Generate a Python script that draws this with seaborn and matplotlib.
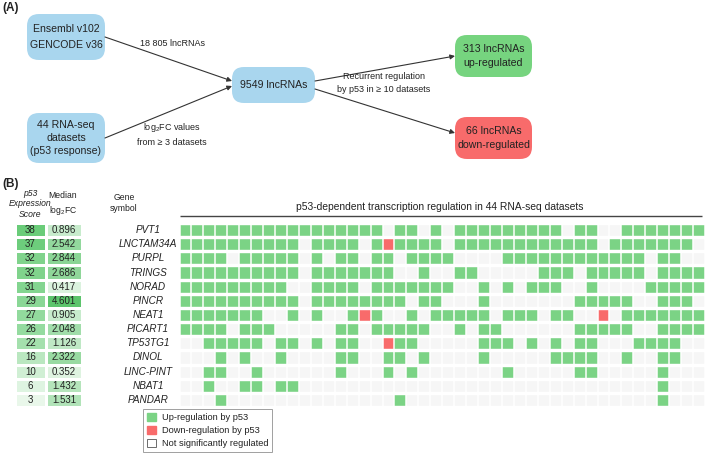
import numpy as np
import pandas as pd
import matplotlib
matplotlib.use("Agg")
import matplotlib.pyplot as plt
import seaborn as sns
from matplotlib.colors import ListedColormap, LinearSegmentedColormap, PowerNorm
from matplotlib.patches import FancyBboxPatch, Patch

# ---------------- data ----------------
genes = ["PVT1", "LNCTAM34A", "PURPL", "TRINGS", "NORAD", "PINCR", "NEAT1",
         "PICART1", "TP53TG1", "DINOL", "LINC-PINT", "NBAT1", "PANDAR"]
scores = [38, 37, 32, 32, 31, 29, 27, 26, 22, 16, 10, 6, 3]
medians = [0.896, 2.542, 2.844, 2.686, 0.417, 4.601, 0.905, 2.048, 1.126,
           2.322, 0.352, 1.432, 1.531]
# u = up-regulation by p53, d = down-regulation, . = not significant (44 datasets)
status_rows = [
    "uuuuuuuuuuuuuuuuu.uu.u.uuuuuuuuu.uu..uuuuuuu",
    "uuuuuuuuuu.uuuu.uduuuu.uuuuuuuuuuuu.uuuuuuu.",
    "uuuu.uuuuu.u.uu.uu.uuuu....uuuuuuuuuuuu.uu..",
    "uuuuuuuuuu.uuuuuuu..u..uu.....uuu.uuuuu.uuuu",
    "uuuuuuuuu..uuuu.uuuuuuu..u.u.uuu..u....uuuuu",
    "uuuuuuuuuu.uuuuuuuu.uu...u.......uuuuu..uuu.",
    "uuuuuuu..u.u..udu..u.uuuuu.uuu.uu..d.uuuuuuu",
    "uuuu.uuu.....uu.uuuuu..u.uu......uuuuu..uuuu",
    "..uuuuu.uu.u.uu..duu.....uuu.u.u.uu...uuuu..",
    "...u.u..u....uu..uu.u....u.....uuuu..u..uu..",
    "..uu..u......u...u.u.......u.....uu.....u...",
    "..u..uu.uu..............................u...",
    "...u..............u.....................u...",
]
for r in status_rows:
    assert len(r) == 44, (r, len(r))

flow_boxes = ["Ensembl v102\nGENCODE v36", "44 RNA-seq\ndatasets\n(p53 response)",
              "9549 lncRNAs", "313 lncRNAs\nup-regulated", "66 lncRNAs\ndown-regulated"]
flow_labels = ["18 805 lncRNAs", "log$_2$FC values\nfrom ≥ 3 datasets",
               "Recurrent regulation\nby p53 in ≥ 10 datasets"]

# ---------------- style ----------------
sns.set_theme(style="white")
plt.rcParams['font.family'] = ['Liberation Sans', 'DejaVu Sans']
plt.rcParams['mathtext.fontset'] = 'custom'
plt.rcParams['mathtext.rm'] = 'Liberation Sans'
plt.rcParams['mathtext.it'] = 'Liberation Sans:italic'

W, H = 709, 454
fig = plt.figure(figsize=(W / 100, H / 100), dpi=100)
TXT = "#222222"

def px_axes(x0, y0, x1, y1, **kw):
    return fig.add_axes([x0 / W, 1 - y1 / H, (x1 - x0) / W, (y1 - y0) / H], **kw)

ov = px_axes(0, 0, W, H)
ov.set_xlim(0, W)
ov.set_ylim(H, 0)
ov.axis('off')

# ---------------- panel A ----------------
BLUE, GREEN, RED = "#a9d6ee", "#76d47f", "#f86b6b"
GRID_GREEN = "#7bd385"
box_geo = [(27, 14, 105, 60, BLUE, 1.65), (27, 113, 105, 163, BLUE, 1.35),
           (232, 67, 315, 103, BLUE, 1.2), (455, 35, 532, 77, GREEN, 1.55),
           (455, 117, 532, 159, RED, 1.5)]
for (x0, y0, x1, y1, c, ls), t in zip(box_geo, flow_boxes):
    ov.add_patch(FancyBboxPatch((x0, y0), x1 - x0, y1 - y0,
                                boxstyle="round,pad=0,rounding_size=12",
                                fc=c, ec="none"))
    ov.text((x0 + x1) / 2, (y0 + y1) / 2, t, ha='center', va='center',
            fontsize=7.6, color=TXT, linespacing=ls)

arrows = [((105, 37), (232, 81)), ((105, 138), (232, 86)),
          ((315, 81), (455, 56)), ((315, 89), (455, 133))]
for s, e in arrows:
    ov.annotate("", xy=e, xytext=s,
                arrowprops=dict(arrowstyle="-|>", color="#333333", lw=0.8,
                                mutation_scale=7, shrinkA=0, shrinkB=0))
ov.text(172, 43, flow_labels[0], ha='center', va='center', fontsize=6.5, color=TXT)
ov.text(172, 134, flow_labels[1], ha='center', va='center', fontsize=6.5,
        color=TXT, linespacing=1.45)
ov.text(384, 83, flow_labels[2], ha='center', va='center', fontsize=6.5,
        color=TXT, linespacing=1.7)
ov.text(2, 8, "(A)", ha='left', va='center', fontsize=8.5, fontweight='bold', color=TXT)
ov.text(2, 184, "(B)", ha='left', va='center', fontsize=8.5, fontweight='bold', color=TXT)

# ---------------- panel B ----------------
Y0, Y1 = 223, 407
n = len(genes)
pitch = (Y1 - Y0) / n

# headers
ov.text(30, 204, "p53\nExpression\nScore", ha='center', va='center',
        fontsize=6.2, style='italic', color=TXT, linespacing=1.15)
ov.text(63, 204, "Median\nlog$_2$FC", ha='center', va='center',
        fontsize=6.2, color=TXT, linespacing=1.35)
ov.text(124, 203, "Gene\nsymbol", ha='center', va='center',
        fontsize=6.2, color=TXT, linespacing=1.35)
ov.text(440, 207, "p53-dependent transcription regulation in 44 RNA-seq datasets",
        ha='center', va='center', fontsize=7.4, color=TXT)
ov.plot([180, 702], [216, 216], color="#444444", lw=1.0, solid_capstyle='butt')

# gene symbols
for i, g in enumerate(genes):
    ov.text(148, Y0 + (i + 0.5) * pitch, g, ha='center', va='center',
            fontsize=7.2, style='italic', color=TXT)

# score & median columns
gcmap = LinearSegmentedColormap.from_list("lg", ["#f4fbf4", "#6acc79"])
ax_s = px_axes(15, Y0, 46, Y1)
sns.heatmap(pd.DataFrame({"s": scores}, index=genes), ax=ax_s, cmap=gcmap,
            vmin=0, vmax=38, annot=True, fmt="d", cbar=False,
            linewidths=0.8, linecolor='white', xticklabels=False,
            yticklabels=False, annot_kws=dict(fontsize=7, color=TXT))
mcmap = LinearSegmentedColormap.from_list("lg2", ["#f4fbf4", "#5cc46c"])
ax_m = px_axes(46, Y0, 82, Y1)
sns.heatmap(pd.DataFrame({"m": medians}, index=genes), ax=ax_m, cmap=mcmap,
            norm=PowerNorm(gamma=0.75, vmin=0, vmax=4.601), annot=True,
            fmt=".3f", cbar=False, linewidths=0.8, linecolor='white',
            xticklabels=False, yticklabels=False,
            annot_kws=dict(fontsize=7, color=TXT))

# regulation grid
code = {'.': 0, 'u': 1, 'd': 2}
grid = pd.DataFrame([[code[c] for c in r] for r in status_rows], index=genes)
ax_g = px_axes(179.5, Y0, 705, Y1)
sns.heatmap(grid, ax=ax_g, cmap=ListedColormap(["#f6f6f6", GRID_GREEN, RED]),
            vmin=-0.5, vmax=2.5, cbar=False, xticklabels=False, yticklabels=False)
for i in range(n + 1):
    ax_g.axhline(i, color='white', lw=3.4 * 0.72)
for j in range(45):
    ax_g.axvline(j, color='white', lw=1.5 * 0.72)
for a in (ax_s, ax_m, ax_g):
    a.set_xlabel("")
    a.set_ylabel("")

# legend
handles = [Patch(fc=GRID_GREEN, ec=GRID_GREEN, label="Up-regulation by p53"),
           Patch(fc=RED, ec=RED, label="Down-regulation by p53"),
           Patch(fc="white", ec="#555555", lw=0.6, label="Not significantly regulated")]
leg = ov.legend(handles=handles, loc='upper left',
                bbox_to_anchor=(143 / W, 1 - 409 / H), bbox_transform=fig.transFigure,
                fontsize=6.7, frameon=True, fancybox=False, edgecolor="#888888",
                handlelength=0.95, handleheight=0.95, handletextpad=0.6,
                borderpad=0.45, labelspacing=0.4, borderaxespad=0)
leg.get_frame().set_linewidth(0.7)
for t in leg.get_texts():
    t.set_color(TXT)

fig.savefig("out.png", dpi=100)
